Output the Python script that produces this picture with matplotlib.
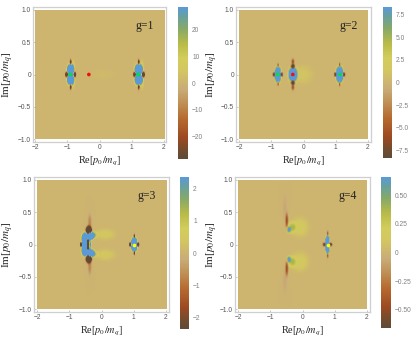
import matplotlib
matplotlib.use('Agg')
import matplotlib.pyplot as plt
from matplotlib.colors import LinearSegmentedColormap
import numpy as np

plt.rcParams['font.family'] = ['Liberation Serif', 'DejaVu Serif']
plt.rcParams['mathtext.fontset'] = 'stix'

W, H = 415, 346

# labels and colour ranges
names = ['g=1', 'g=2', 'g=3', 'g=4']
vmax = [28.5, 8.3, 2.35, 0.66]
cb_ticks = [
    [-20, -10, 0, 10, 20],
    [-7.5, -5, -2.5, 0, 2.5, 5, 7.5],
    [-2, -1, 0, 1, 2],
    [-0.5, -0.25, 0, 0.25, 0.5],
]
cb_labels = [
    ['\u221220', '\u221210', '0', '10', '20'],
    ['\u22127.5', '\u22125.0', '\u22122.5', '0', '2.5', '5.0', '7.5'],
    ['\u22122', '\u22121', '0', '1', '2'],
    ['\u22120.50', '\u22120.25', '0', '0.25', '0.50'],
]
x_ticks = [-2, -1, 0, 1, 2]
x_labels = ['\u22122', '\u22121', '0', '1', '2']
y_ticks = [-1, -0.5, 0, 0.5, 1]
y_labels = ['\u22121.0', '\u22120.5', '0', '0.5', '1.0']

# pixel boxes: frame, data region, colorbar (left, right, top, bottom)
frames = [(33, 166, 7, 142), (236, 371, 7, 142), (34, 169, 177, 312), (235, 370, 177, 312)]
datas = [(35, 164, 10, 139), (239, 368, 10, 139), (37, 166, 180, 309), (238, 367, 180, 309)]
bars = [(178, 188, 7, 159), (383, 392, 7, 158), (180, 189, 177, 329), (381, 391, 177, 328)]
ylabel_x = [8, 212, 8, 212]

# field features per panel: x, y, width x, width y, height
features_1 = [
    (-0.91, 0.07, 0.062, 0.055, 150), (-0.91, -0.07, 0.062, 0.055, 150),
    (-1.03, 0.00, 0.030, 0.026, -70), (-0.79, 0.00, 0.030, 0.026, -70),
    (-0.91, 0.18, 0.022, 0.035, -40), (-0.91, -0.18, 0.022, 0.035, -40),
    (-0.83, 0.14, 0.035, 0.070, 4), (-0.83, -0.14, 0.035, 0.070, 4),
    (1.20, 0.07, 0.070, 0.055, 150), (1.20, -0.07, 0.070, 0.055, 150),
    (1.08, 0.00, 0.030, 0.028, -70), (1.33, 0.00, 0.036, 0.028, -80),
    (1.20, 0.18, 0.022, 0.035, -40), (1.20, -0.18, 0.022, 0.035, -40),
    (1.31, 0.14, 0.035, 0.070, 4), (1.31, -0.14, 0.035, 0.070, 4),
    (0.08, 0.00, 0.280, 0.060, 1.6),
]
features_2 = [
    (-0.80, 0.04, 0.050, 0.050, 40), (-0.80, -0.04, 0.050, 0.050, 40),
    (-0.92, 0.00, 0.022, 0.020, -16), (-0.68, 0.00, 0.022, 0.020, -16),
    (-0.80, 0.13, 0.016, 0.028, -10), (-0.80, -0.13, 0.016, 0.028, -10),
    (-0.33, 0.00, 0.075, 0.070, 40),
    (-0.33, 0.12, 0.038, 0.024, -30), (-0.33, -0.12, 0.038, 0.024, -30),
    (-0.33, 0.20, 0.025, 0.030, -7), (-0.33, -0.20, 0.025, 0.030, -7),
    (1.13, 0.04, 0.058, 0.052, 40), (1.13, -0.04, 0.058, 0.052, 40),
    (1.00, 0.00, 0.026, 0.020, -16), (1.26, 0.00, 0.026, 0.020, -16),
    (1.13, 0.13, 0.016, 0.032, -10), (1.13, -0.13, 0.016, 0.032, -10),
    (-0.02, 0.00, 0.220, 0.100, 1.2),
]
features_3 = [
    (-0.49, 0.10, 0.075, 0.050, 15), (-0.49, -0.10, 0.075, 0.050, 15),
    (-0.35, 0.14, 0.065, 0.034, 14), (-0.35, -0.14, 0.065, 0.034, 14),
    (-0.54, 0.00, 0.050, 0.060, 12),
    (-0.44, 0.00, 0.024, 0.065, -32),
    (-0.36, 0.00, 0.020, 0.022, 6),
    (-0.64, 0.00, 0.022, 0.020, -12),
    (-0.41, 0.21, 0.055, 0.045, -10), (-0.41, -0.21, 0.055, 0.045, -10),
    (-0.38, 0.34, 0.040, 0.090, -0.7), (-0.38, -0.34, 0.040, 0.090, -0.7),
    (-0.22, 0.15, 0.060, 0.030, 1.0), (-0.22, -0.15, 0.060, 0.030, 1.0),
    (0.10, 0.16, 0.220, 0.060, 0.42), (0.10, -0.16, 0.220, 0.060, 0.42),
    (1.00, 0.035, 0.048, 0.042, 18), (1.00, -0.035, 0.048, 0.042, 18),
    (0.88, 0.00, 0.022, 0.018, -9), (1.12, 0.00, 0.022, 0.018, -9),
    (1.00, 0.12, 0.016, 0.026, -4), (1.00, -0.12, 0.016, 0.026, -4),
]
features_4 = [
    (-0.43, 0.23, 0.042, 0.030, 0.70), (-0.43, -0.23, 0.042, 0.030, 0.70),
    (-0.33, 0.27, 0.090, 0.055, 0.32), (-0.33, -0.27, 0.090, 0.055, 0.32),
    (-0.08, 0.27, 0.190, 0.105, 0.14), (-0.08, -0.27, 0.190, 0.105, 0.14),
    (-0.49, 0.37, 0.028, 0.080, -0.50), (-0.49, -0.37, 0.028, 0.080, -0.50),
    (-0.55, 0.58, 0.045, 0.130, -0.07), (-0.55, -0.58, 0.045, 0.130, -0.07),
    (0.78, 0.05, 0.030, 0.052, 5.0), (0.78, -0.05, 0.030, 0.052, 5.0),
    (0.68, 0.00, 0.024, 0.014, -2.5), (0.88, 0.00, 0.024, 0.014, -2.5),
    (0.78, 0.15, 0.012, 0.040, -1.0), (0.78, -0.15, 0.012, 0.040, -1.0),
]
features = [features_1, features_2, features_3, features_4]

# the marked poles
pole_x = [[-0.91, -0.33, 1.20], [-0.80, -0.33, 1.13], [1.00], [0.78]]
pole_c = [['#00e040', '#f01010', '#00e040'], ['#00e040', '#f01010', '#00e040'], ['#ffff00'], ['#ffff00']]

cmap = LinearSegmentedColormap.from_list('bar', [
    (0.00, '#5e4b38'), (0.05, '#6f4c30'), (0.14, '#9c4a22'), (0.26, '#b5692f'),
    (0.38, '#c0945a'), (0.46, '#c9ac78'), (0.50, '#cdb470'), (0.58, '#d3c662'),
    (0.66, '#d3cd5c'), (0.76, '#b8bb48'), (0.86, '#86a968'), (0.94, '#67a0a0'),
    (1.00, '#5a9ad8'),
])

# coarse grid, about one sample per pixel of the target
xs = np.linspace(-2, 2, 130)
ys = np.linspace(-1, 1, 130)
gx, gy = np.meshgrid(xs, ys)

fig = plt.figure(figsize=(W / 100, H / 100), dpi=100)


def box(b):
    return [b[0] / W, 1 - b[3] / H, (b[1] - b[0]) / W, (b[3] - b[2]) / H]


for i in range(4):
    fr, da = frames[i], datas[i]
    ax = fig.add_axes(box(fr))
    z = np.zeros_like(gx)
    for px, py, sx, sy, amp in features[i]:
        r2 = ((gx - px) / sx) ** 2 / 2 + ((gy - py) / sy) ** 2 / 2
        z += amp * np.exp(-r2 ** 1.4)
    im = ax.imshow(z, extent=[-2, 2, -1, 1], origin='lower', cmap=cmap, aspect='auto',
                   vmin=-vmax[i], vmax=vmax[i], interpolation='bilinear')
    ax.set_xlim(-2 + (fr[0] - da[0]) * 4 / (da[1] - da[0]), 2 + (fr[1] - da[1]) * 4 / (da[1] - da[0]))
    ax.set_ylim(-1 - (fr[3] - da[3]) * 2 / (da[3] - da[2]), 1 + (da[2] - fr[2]) * 2 / (da[3] - da[2]))
    for s in ax.spines.values():
        s.set_color('#cfcfcf')
        s.set_linewidth(0.9)
    ax.set_xticks(x_ticks, x_labels, fontsize=4.8, color='#555555', family='Liberation Sans')
    ax.set_yticks(y_ticks, y_labels, fontsize=4.8, color='#555555', family='Liberation Sans')
    ax.tick_params(length=1.2, width=0.4, color='#999999', direction='in', pad=1.5)
    ax.scatter(pole_x[i], [0] * len(pole_x[i]), s=7, marker='o', c=pole_c[i], linewidths=0, zorder=3)
    ax.text(1.40, 0.75, names[i], fontsize=8.5, color='#222222', ha='center', va='center')

    fig.text((da[0] + da[1]) / 2 / W, 1 - (fr[3] + 19) / H, 'Re[$p_0/m_q$]', fontsize=7.4,
             color='#222222', ha='center', va='center')
    fig.text(ylabel_x[i] / W, 1 - (da[2] + da[3]) / 2 / H, 'Im[$p_0/m_q$]', fontsize=8,
             color='#222222', ha='center', va='center', rotation=90)

    cax = fig.add_axes(box(bars[i]))
    cb = fig.colorbar(im, cax=cax)
    cb.set_ticks(cb_ticks[i], labels=cb_labels[i])
    cb.outline.set_visible(False)
    cax.tick_params(length=0, labelsize=4.8, labelcolor='#808080', pad=3)
    for t in cax.get_yticklabels():
        t.set_family('Liberation Sans')

fig.savefig('out.png', dpi=100)
plt.close()
